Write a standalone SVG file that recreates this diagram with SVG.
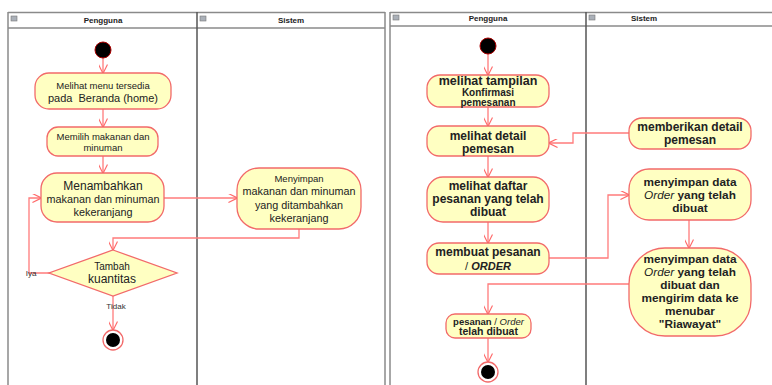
<svg xmlns="http://www.w3.org/2000/svg" width="772" height="385" viewBox="0 0 772 385">
<defs>
<marker id="arr" viewBox="0 0 10 10" refX="9.5" refY="5" markerWidth="9" markerHeight="9" markerUnits="userSpaceOnUse" orient="auto">
<path d="M0,0 L10,5 L0,10" fill="none" stroke="#ff6b6b" stroke-width="1.3"/>
</marker>
</defs>
<style>
.frame{fill:none;stroke:#8a8a8a;stroke-width:1.5}
.div{stroke:#555;stroke-width:1.5}
.hd{font-family:"Liberation Sans",Arial,sans-serif;font-size:8px;font-weight:bold;fill:#222;text-anchor:middle}
.ico{fill:#aab0b8;stroke:#777;stroke-width:0.6}
.node{fill:#ffffc2;stroke:#f26a6a;stroke-width:1.3}
.t{font-family:"Liberation Sans",Arial,sans-serif;fill:#222;text-anchor:middle}
.b{font-family:"Liberation Sans",Arial,sans-serif;font-weight:bold;fill:#222;text-anchor:middle}
.e{fill:none;stroke:#ff7b7b;stroke-width:1.3}
.lbl{font-family:"Liberation Sans",Arial,sans-serif;font-size:8px;fill:#333;text-anchor:middle}
</style>
<rect width="772" height="385" fill="#fff"/>

<!-- Left diagram frame -->
<g id="left-frame">
<line x1="8" y1="12.5" x2="385" y2="12.5" class="frame"/>
<line x1="8" y1="28" x2="385" y2="28" class="frame"/>
<line x1="8" y1="12" x2="8" y2="385" class="frame"/>
<line x1="385" y1="12" x2="385" y2="385" class="frame"/>
<line x1="197" y1="12" x2="197" y2="385" class="div"/>
<rect x="11" y="16" width="6" height="5" class="ico"/>
<rect x="200" y="16" width="6" height="5" class="ico"/>
<text x="103" y="23" class="hd">Pengguna</text>
<text x="291" y="23" class="hd">Sistem</text>
</g>

<!-- Right diagram frame -->
<g id="right-frame">
<line x1="390" y1="12.5" x2="772" y2="12.5" class="frame"/>
<line x1="390" y1="26" x2="772" y2="26" class="frame"/>
<line x1="390" y1="12" x2="390" y2="385" class="frame"/>
<line x1="586" y1="12" x2="586" y2="385" class="div"/>
<rect x="393" y="15" width="6" height="5" class="ico"/>
<rect x="589" y="15" width="6" height="5" class="ico"/>
<text x="488" y="21" class="hd">Pengguna</text>
<text x="644" y="21" class="hd">Sistem</text>
</g>

<!-- Connectors -->
<g id="connectors">
<line x1="103" y1="58" x2="103" y2="73" class="e" marker-end="url(#arr)"/>
<line x1="103" y1="109" x2="103" y2="127" class="e" marker-end="url(#arr)"/>
<line x1="103" y1="156" x2="103" y2="173" class="e" marker-end="url(#arr)"/>
<line x1="164" y1="198" x2="237" y2="198" class="e" marker-end="url(#arr)"/>
<polyline points="299,229 299,238 113,238 113,250" class="e" marker-end="url(#arr)"/>
<polyline points="49,273 29,273 29,198 41,198" class="e" marker-end="url(#arr)"/>
<line x1="49" y1="273" x2="76" y2="273" stroke="#ff6b6b" stroke-width="1.6"/>
<line x1="113" y1="296" x2="113" y2="330" class="e" marker-end="url(#arr)"/>

<line x1="488" y1="54" x2="488" y2="75" class="e" marker-end="url(#arr)"/>
<line x1="488" y1="107" x2="488" y2="126" class="e" marker-end="url(#arr)"/>
<polyline points="629,133 573,133 573,143 549,143" class="e" marker-end="url(#arr)"/>
<line x1="488" y1="156" x2="488" y2="177" class="e" marker-end="url(#arr)"/>
<line x1="488" y1="222" x2="488" y2="243" class="e" marker-end="url(#arr)"/>
<polyline points="549,258 608,258 608,195 629,195" class="e" marker-end="url(#arr)"/>
<line x1="689" y1="220" x2="689" y2="248" class="e" marker-end="url(#arr)"/>
<polyline points="629,284 488,284 488,314" class="e" marker-end="url(#arr)"/>
<line x1="488" y1="338" x2="488" y2="362" class="e" marker-end="url(#arr)"/>
</g>

<!-- Left nodes -->
<g id="l-start"><circle cx="103" cy="50" r="8" fill="#000" stroke="#a00" stroke-width="1"/></g>
<g id="l-n1">
<rect x="35" y="73" width="136" height="36" rx="14" class="node"/>
<text x="103" y="89" class="t" font-size="9.5">Melihat menu tersedia</text>
<text x="103" y="101.5" class="t" font-size="11" xml:space="preserve">pada  Beranda (home)</text>
</g>
<g id="l-n2">
<rect x="47" y="127" width="111" height="29" rx="11" class="node"/>
<text x="103" y="140" class="t" font-size="9.5">Memilih makanan dan</text>
<text x="103" y="151" class="t" font-size="9.5">minuman</text>
</g>
<g id="l-n3">
<rect x="41" y="173" width="123" height="49" rx="16" class="node"/>
<text x="103" y="190" class="t" font-size="12">Menambahkan</text>
<text x="103" y="203" class="t" font-size="10.8">makanan dan minuman</text>
<text x="103" y="216" class="t" font-size="10.8">kekeranjang</text>
</g>
<g id="l-n4">
<rect x="237" y="168" width="124" height="61" rx="22" class="node"/>
<text x="299" y="181.5" class="t" font-size="9.5">Menyimpan</text>
<text x="299" y="195" class="t" font-size="10.8">makanan dan minuman</text>
<text x="299" y="209" class="t" font-size="10.8">yang ditambahkan</text>
<text x="299" y="222" class="t" font-size="10.8">kekeranjang</text>
</g>
<g id="l-dec">
<polygon points="113,250 177,273 113,296 49,273" class="node"/>
<text x="112" y="270" class="t" font-size="10">Tambah</text>
<text x="112" y="283" class="t" font-size="12">kuantitas</text>
</g>
<g id="l-lbls">
<text x="31" y="276" class="lbl">Iya</text>
<text x="116" y="309" class="lbl">Tidak</text>
</g>
<g id="l-end">
<circle cx="113" cy="340" r="10" fill="#fff" stroke="#f26a6a" stroke-width="1.3"/>
<circle cx="113" cy="340" r="7" fill="#000"/>
</g>

<!-- Right nodes -->
<g id="r-start"><circle cx="488" cy="46" r="8" fill="#000" stroke="#a00" stroke-width="1"/></g>
<g id="r-a">
<rect x="427" y="75" width="122" height="32" rx="13" class="node"/>
<text x="488" y="84.5" class="b" font-size="12.5">melihat tampilan</text>
<text x="488" y="95.5" class="b" font-size="10">Konfirmasi</text>
<text x="488" y="105.5" class="b" font-size="10">pemesanan</text>
</g>
<g id="r-b">
<rect x="427" y="126" width="122" height="30" rx="12" class="node"/>
<text x="488" y="139.5" class="b" font-size="12">melihat detail</text>
<text x="488" y="152.5" class="b" font-size="12">pemesan</text>
</g>
<g id="r-c">
<rect x="427" y="177" width="122" height="45" rx="16" class="node"/>
<text x="488" y="189.5" class="b" font-size="12">melihat daftar</text>
<text x="488" y="203" class="b" font-size="12">pesanan yang telah</text>
<text x="488" y="216" class="b" font-size="12">dibuat</text>
</g>
<g id="r-d">
<rect x="427" y="243" width="122" height="31" rx="12" class="node"/>
<text x="488" y="256" class="b" font-size="12">membuat pesanan</text>
<text x="488" y="269.5" class="b" font-size="11"><tspan font-weight="normal">/</tspan> <tspan font-style="italic">ORDER</tspan></text>
</g>
<g id="r-e">
<rect x="629" y="118" width="122" height="31" rx="13" class="node"/>
<text x="690" y="131" class="b" font-size="12">memberikan detail</text>
<text x="690" y="144" class="b" font-size="12">pemesan</text>
</g>
<g id="r-f">
<rect x="629" y="169" width="122" height="51" rx="20" class="node"/>
<text x="690" y="186" class="b" font-size="11.8">menyimpan data</text>
<text x="690" y="199" class="b" font-size="11.8"><tspan font-style="italic" font-weight="normal">Order</tspan> yang telah</text>
<text x="690" y="212" class="b" font-size="11.8">dibuat</text>
</g>
<g id="r-g">
<rect x="629" y="248" width="122" height="88" rx="36" class="node"/>
<text x="690" y="262.5" class="b" font-size="11.8">menyimpan data</text>
<text x="690" y="275.5" class="b" font-size="11.8"><tspan font-style="italic" font-weight="normal">Order</tspan> yang telah</text>
<text x="690" y="288.5" class="b" font-size="11.8">dibuat dan</text>
<text x="690" y="301.5" class="b" font-size="11.8">mengirim data ke</text>
<text x="690" y="314.5" class="b" font-size="11.8">menubar</text>
<text x="690" y="327.5" class="b" font-size="11.8">"Riawayat"</text>
</g>
<g id="r-h">
<rect x="446" y="314" width="85" height="24" rx="9" class="node"/>
<text x="488.5" y="324.5" class="b" font-size="9.5">pesanan <tspan font-weight="normal">/</tspan> <tspan font-style="italic" font-weight="normal">Order</tspan></text>
<text x="488.5" y="335" class="b" font-size="10.5">telah dibuat</text>
</g>
<g id="r-end">
<circle cx="488" cy="372" r="10" fill="#fff" stroke="#f26a6a" stroke-width="1.3"/>
<circle cx="488" cy="372" r="7" fill="#000"/>
</g>
</svg>
